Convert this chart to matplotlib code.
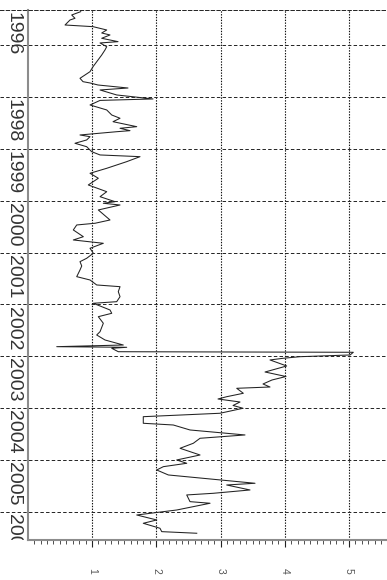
import numpy as np
import matplotlib.pyplot as plt
from matplotlib.ticker import FixedLocator

# serie: tiempo en años fraccionarios y valor del índice
fechas = [1996.358, 1996.422, 1996.486, 1996.518, 1996.615, 1996.647, 1996.711, 1996.769,
          1996.807, 1996.871, 1996.936, 1996.961, 1997.033, 1997.096, 1997.193, 1997.322,
          1997.418, 1997.514, 1997.642, 1997.707, 1997.732, 1997.771, 1997.829, 1997.867,
          1997.963, 1998.040, 1998.068, 1998.156, 1998.252, 1998.349, 1998.412, 1998.478,
          1998.574, 1998.605, 1998.651, 1998.671, 1998.734, 1998.767, 1998.830, 1998.894,
          1998.960, 1999.056, 1999.119, 1999.152, 1999.248, 1999.376, 1999.472, 1999.568,
          1999.697, 1999.827, 1999.923, 2000.019, 2000.050, 2000.083, 2000.179, 2000.372,
          2000.435, 2000.468, 2000.564, 2000.694, 2000.757, 2000.821, 2000.917, 2001.013,
          2001.110, 2001.175, 2001.258, 2001.335, 2001.464, 2001.528, 2001.624, 2001.657,
          2001.753, 2001.850, 2001.946, 2001.977, 2002.106, 2002.170, 2002.235, 2002.362,
          2002.524, 2002.588, 2002.684, 2002.781, 2002.813, 2002.825, 2002.844, 2002.910,
          2002.921, 2002.973, 2003.006, 2003.037, 2003.069, 2003.185, 2003.301, 2003.388,
          2003.455, 2003.532, 2003.590, 2003.615, 2003.711, 2003.777, 2003.821, 2003.879,
          2003.946, 2004.000, 2004.096, 2004.162, 2004.289, 2004.322, 2004.418, 2004.514,
          2004.578, 2004.674, 2004.771, 2004.900, 2004.996, 2005.060, 2005.125, 2005.189,
          2005.285, 2005.381, 2005.445, 2005.478, 2005.574, 2005.638, 2005.670, 2005.799,
          2005.830, 2005.896, 2005.960, 2006.056, 2006.152, 2006.216, 2006.312, 2006.377,
          2006.408]
valores = [0.824, 0.684, 0.735, 0.658, 0.580, 1.016, 1.229, 1.151,
           1.280, 1.151, 1.405, 1.125, 1.229, 1.202, 1.151, 1.073,
           1.016, 0.969, 0.813, 0.860, 0.969, 1.093, 1.560, 1.125,
           1.384, 1.949, 1.125, 0.969, 1.229, 1.307, 1.436, 1.327,
           1.696, 1.436, 1.591, 1.384, 0.813, 0.969, 0.917, 0.735,
           0.917, 0.995, 1.125, 1.747, 1.540, 1.229, 0.969, 1.098,
           0.942, 1.229, 1.125, 1.358, 1.176, 1.436, 1.098, 1.280,
           1.047, 0.762, 0.709, 0.865, 0.709, 1.176, 0.969, 1.020,
           0.917, 0.813, 0.840, 0.813, 0.762, 0.969, 1.073, 1.436,
           1.409, 1.436, 1.384, 1.020, 1.280, 1.307, 1.098, 1.176,
           1.125, 1.073, 1.202, 1.487, 0.451, 1.540, 1.307, 1.409,
           5.067, 5.016, 4.237, 3.973, 3.770, 4.030, 3.693, 4.019,
           3.801, 3.661, 3.770, 3.252, 3.355, 3.096, 2.961, 3.303,
           3.195, 3.350, 2.992, 1.798, 1.798, 2.265, 2.525, 3.381,
           2.681, 2.577, 2.370, 2.681, 2.318, 2.474, 2.110, 2.007,
           2.188, 2.992, 3.537, 3.096, 3.459, 2.888, 2.474, 2.525,
           2.837, 2.577, 2.318, 1.696, 2.007, 1.798, 2.058, 2.085,
           2.630]

anios_ticks = [1997, 1998, 1999, 2000, 2001, 2002, 2003, 2004, 2005, 2006]
anios_etiq = [1996.326, 1998, 1999, 2000, 2001, 2002, 2003, 2004, 2005, 2006]
textos_etiq = ['1996', '1998', '1999', '2000', '2001', '2002', '2003', '2004', '2005', '2006']
valores_ticks = [1, 2, 3, 4, 5]

plt.rcParams['font.family'] = ['Liberation Sans Narrow', 'Liberation Sans', 'DejaVu Sans']
plt.rcParams['lines.scale_dashes'] = False

fig = plt.figure(figsize=(3.87, 5.80), dpi=100)
ax = fig.add_axes([0, 40 / 580, 1, 530 / 580])

ax.plot(valores, fechas, color='#222222', lw=0.75, zorder=3)

ax.set_xlim(-0.432, 5.591)
ax.set_ylim(2006.538, 1996.326)

# rejilla punteada
ax.set_yticks(anios_ticks)
ax.set_xticks(valores_ticks)
ax.set_xticklabels([str(x) for x in valores_ticks])
ax.xaxis.set_minor_locator(FixedLocator([x / 10 for x in range(1, 56) if x % 10]))
ax.grid(axis='y', color='#222222', ls=(0, (2.5, 1.6)), lw=0.7)
ax.grid(axis='x', which='major', color='#111111', ls=(0, (1.0, 1.0)), lw=0.8)
ax.set_axisbelow(True)

ax.tick_params(axis='y', length=0, labelleft=False)
ax.tick_params(axis='x', which='major', length=5, width=0.8, color='#222222',
               pad=15, labelsize=7.5, labelcolor='#555555', labelrotation=-90)
ax.tick_params(axis='x', which='minor', length=3, width=0.6, color='#333333')

for s in ['left', 'bottom']:
    ax.spines[s].set_color('#8c8c8c')
    ax.spines[s].set_linewidth(1.5)
ax.spines['left'].set_position(('data', 0))
ax.spines['bottom'].set_bounds(0, 5.591)
ax.spines['right'].set_visible(False)
ax.spines['top'].set_color('#222222')
ax.spines['top'].set_linestyle((0, (2.5, 1.6)))
ax.spines['top'].set_linewidth(0.7)

# etiquetas de los años, giradas
for a, txt in zip(anios_etiq, textos_etiq):
    ax.text(-0.222, a + 0.04, txt, rotation=-90, ha='center', va='top',
            fontsize=14, color='#333333', clip_on=True)

fig.savefig('out.png', dpi=100)
